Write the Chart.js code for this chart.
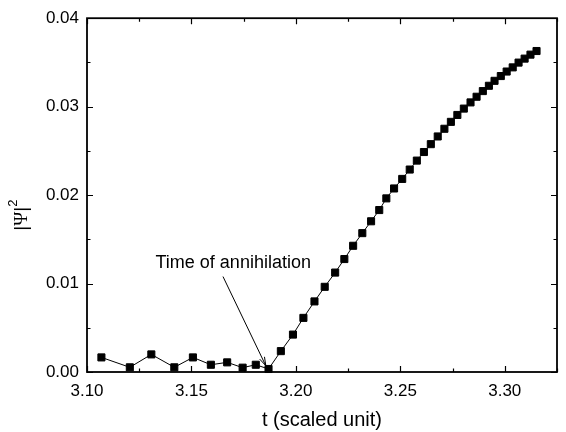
<!DOCTYPE html>
<html>
<head>
<meta charset="utf-8">
<script src="https://cdn.jsdelivr.net/npm/chart.js@4/dist/chart.umd.min.js"></script>
<style>
  html, body { margin: 0; padding: 0; background: #fff; }
  #wrap { width: 566px; height: 432px; }
</style>
</head>
<body>
<div id="wrap"><canvas id="c" width="566" height="432"></canvas></div>
<script>
// Time samples (scaled units) and the squared amplitude |Psi|^2
const tValues = [
  3.1069, 3.1205, 3.1308, 3.1418, 3.1507, 3.1593, 3.1671, 3.1745, 3.1808, 3.1869,
  3.1928, 3.1986, 3.2036, 3.2089, 3.2138, 3.2188, 3.2232, 3.2274, 3.2318, 3.2360,
  3.2399, 3.2433, 3.2470, 3.2509, 3.2545, 3.2579, 3.2613, 3.2646, 3.2679, 3.2711,
  3.2742, 3.2773, 3.2804, 3.2836, 3.2865, 3.2895, 3.2924, 3.2951, 3.2981, 3.3009,
  3.3038, 3.3066, 3.3095, 3.3123, 3.3152
];
const psiSquared = [
  0.00165, 0.00053, 0.00199, 0.00053, 0.00165, 0.00082, 0.00109, 0.00049, 0.00082, 0.00034,
  0.00236, 0.00423, 0.00612, 0.00798, 0.00963, 0.01124, 0.01277, 0.01427, 0.01570, 0.01704,
  0.01831, 0.01963, 0.02075, 0.02183, 0.02289, 0.02390, 0.02487, 0.02576, 0.02663, 0.02750,
  0.02828, 0.02906, 0.02978, 0.03048, 0.03112, 0.03176, 0.03236, 0.03292, 0.03346, 0.03397,
  0.03444, 0.03498, 0.03543, 0.03588, 0.03629
];

// Axis ranges and tick steps (minor ticks between labelled ones)
const xRange = [3.10, 3.325];
const yRange = [0.0, 0.04];
const xMajorStep = 0.05, xMinorStep = 0.025;
const yMajorStep = 0.01, yMinorStep = 0.005;

// Annotation: label and arrow, in data units
const annotationText = 'Time of annihilation';
const annotationLabelAt = [3.1700, 0.01236];
const arrowFrom = [3.1651, 0.01079];
const arrowTo = [3.1856, 0.00071];

const FONT = "'Liberation Sans', Arial, Helvetica, sans-serif";
const SERIF = "'Liberation Serif', 'Times New Roman', serif";

const points = tValues.map((t, i) => ({ x: t, y: psiSquared[i] }));

function isMajor(v, step) {
  const r = v / step;
  return Math.abs(r - Math.round(r)) < 1e-6;
}

// Frame, inward ticks on all four sides, y title and the annotation arrow
const decorations = {
  id: 'decorations',
  beforeDatasetsDraw(chart) {
    const { ctx, chartArea: a, scales: { x, y } } = chart;
    ctx.save();
    ctx.strokeStyle = '#000';
    ctx.lineWidth = 1.8;
    ctx.strokeRect(a.left, a.top, a.right - a.left, a.bottom - a.top);
    ctx.lineWidth = 1.2;
    ctx.beginPath();
    x.ticks.forEach(tk => {
      const px = Math.round(x.getPixelForValue(tk.value)) + 0.5;
      const len = isMajor(tk.value - xRange[0], xMajorStep) ? 6 : 3.5;
      ctx.moveTo(px, a.bottom); ctx.lineTo(px, a.bottom - len);
      ctx.moveTo(px, a.top); ctx.lineTo(px, a.top + len);
    });
    y.ticks.forEach(tk => {
      const py = Math.round(y.getPixelForValue(tk.value)) + 0.5;
      const len = isMajor(tk.value, yMajorStep) ? 6 : 3.5;
      ctx.moveTo(a.left, py); ctx.lineTo(a.left + len, py);
      ctx.moveTo(a.right, py); ctx.lineTo(a.right - len, py);
    });
    ctx.stroke();
    ctx.restore();
  },
  afterDraw(chart) {
    const { ctx, chartArea: a, scales: { x, y } } = chart;
    ctx.save();
    ctx.fillStyle = '#000';
    ctx.strokeStyle = '#000';

    // annotation label
    ctx.font = '18px ' + FONT;
    ctx.textAlign = 'center';
    ctx.textBaseline = 'middle';
    ctx.fillText(annotationText, x.getPixelForValue(annotationLabelAt[0]), y.getPixelForValue(annotationLabelAt[1]));

    // arrow
    const x0 = x.getPixelForValue(arrowFrom[0]), y0 = y.getPixelForValue(arrowFrom[1]);
    const x1 = x.getPixelForValue(arrowTo[0]), y1 = y.getPixelForValue(arrowTo[1]);
    ctx.lineWidth = 1;
    ctx.beginPath();
    ctx.moveTo(x0, y0); ctx.lineTo(x1, y1);
    const ang = Math.atan2(y1 - y0, x1 - x0);
    const head = 9, spread = 0.3;
    ctx.moveTo(x1, y1); ctx.lineTo(x1 - head * Math.cos(ang - spread), y1 - head * Math.sin(ang - spread));
    ctx.moveTo(x1, y1); ctx.lineTo(x1 - head * Math.cos(ang + spread), y1 - head * Math.sin(ang + spread));
    ctx.stroke();

    // y axis title |Psi|^2, rotated
    const parts = [
      { t: '|', f: '19px ' + FONT, dy: 0 },
      { t: '\u03A8', f: '19px ' + SERIF, dy: 0 },
      { t: '|', f: '19px ' + FONT, dy: 0 },
      { t: '2', f: '13px ' + FONT, dy: -10 }
    ];
    let total = 0;
    parts.forEach(p => { ctx.font = p.f; p.w = ctx.measureText(p.t).width; total += p.w; });
    ctx.translate(27, (a.top + a.bottom) / 2 + 20);
    ctx.rotate(-Math.PI / 2);
    ctx.textAlign = 'left';
    ctx.textBaseline = 'alphabetic';
    let cx = -total / 2;
    parts.forEach(p => { ctx.font = p.f; ctx.fillText(p.t, cx, p.dy); cx += p.w; });
    ctx.restore();
  }
};

new Chart(document.getElementById('c'), {
  type: 'scatter',
  data: {
    datasets: [{
      data: points,
      showLine: true,
      borderColor: '#000',
      borderWidth: 1,
      backgroundColor: '#000',
      pointStyle: 'rect',
      pointRadius: 5,
      pointBorderWidth: 1,
      pointBorderColor: '#000',
      pointBackgroundColor: '#000',
      clip: false
    }]
  },
  options: {
    responsive: false,
    animation: false,
    devicePixelRatio: 1,
    layout: { padding: { top: 16, right: 1, left: 0, bottom: 0 } },
    plugins: { legend: { display: false }, tooltip: { enabled: false } },
    scales: {
      x: {
        type: 'linear',
        min: xRange[0], max: xRange[1],
        grid: { display: false, drawTicks: false },
        border: { display: false },
        ticks: {
          stepSize: xMinorStep,
          autoSkip: false, maxRotation: 0,
          padding: 9,
          color: '#000',
          font: { family: FONT, size: 17 },
          callback: v => isMajor(v - xRange[0], xMajorStep) ? v.toFixed(2) : ''
        },
        title: {
          display: true, text: 't (scaled unit)', color: '#000',
          font: { family: FONT, size: 20 }, padding: { top: 0, bottom: 0 }
        },
        afterFit(s) { s.height = 60; }
      },
      y: {
        type: 'linear',
        min: yRange[0], max: yRange[1],
        grid: { display: false, drawTicks: false },
        border: { display: false },
        ticks: {
          stepSize: yMinorStep,
          autoSkip: false,
          padding: 8,
          color: '#000',
          font: { family: FONT, size: 17 },
          callback: v => isMajor(v, yMajorStep) ? v.toFixed(2) : ''
        },
        afterFit(s) { s.width = 87; }
      }
    }
  },
  plugins: [decorations]
});
</script>
</body>
</html>
